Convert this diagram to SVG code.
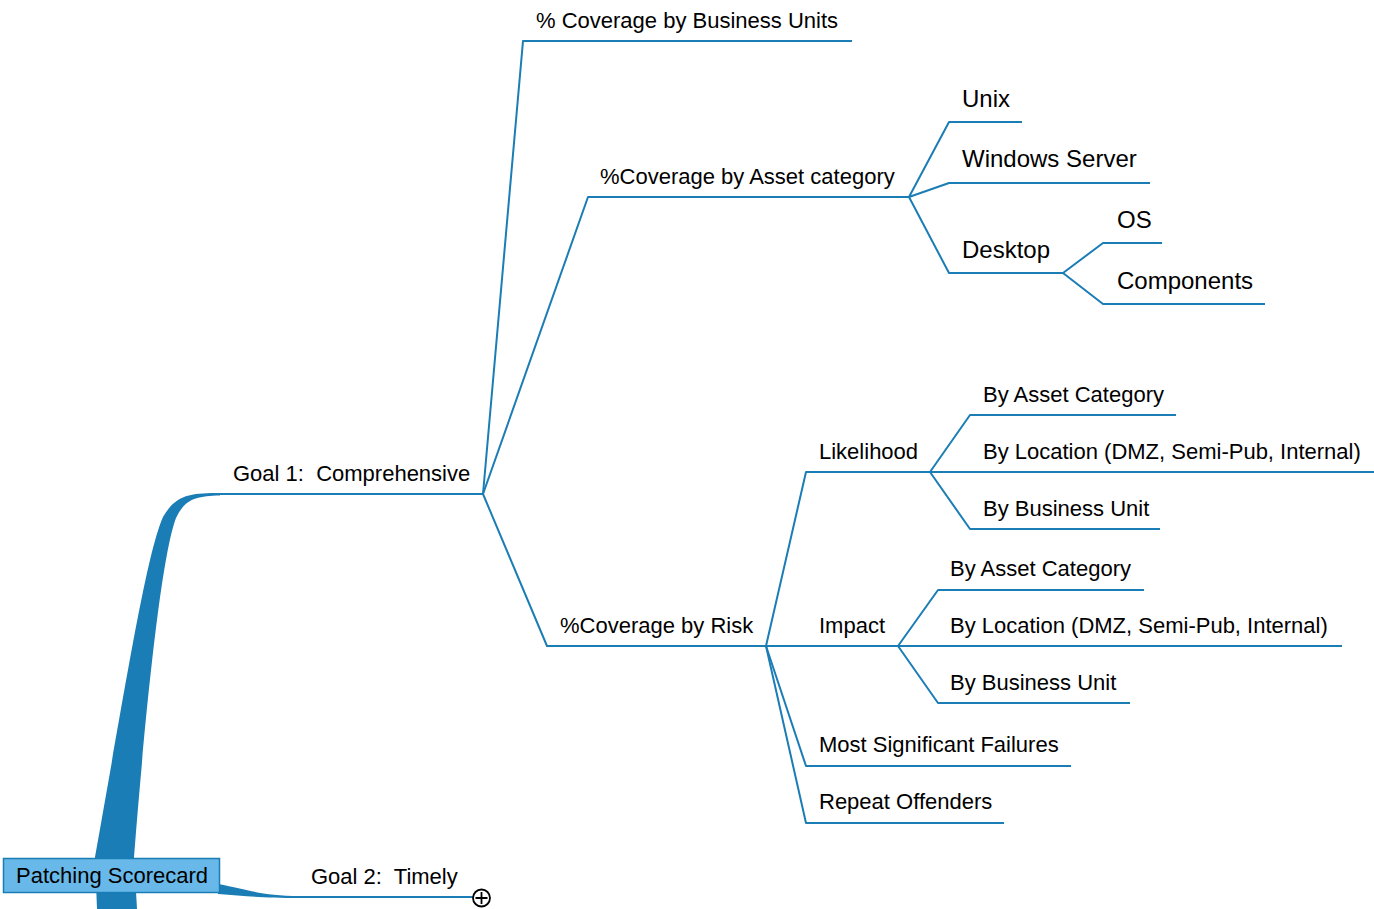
<svg xmlns="http://www.w3.org/2000/svg" width="1374" height="909" viewBox="0 0 1374 909">
  <style>
    .ln { fill: none; stroke: #1b7db5; stroke-width: 2; stroke-linejoin: round; }
    .thick { fill: #1b7db5; stroke: none; }
    .t { font-family: "Liberation Sans", Arial, sans-serif; font-size: 22px; fill: #000; white-space: pre; }
    .tl { font-family: "Liberation Sans", Arial, sans-serif; font-size: 24px; fill: #000; }
  </style>
  <rect width="1374" height="909" fill="#fff"/>

  <!-- connectors -->
  <g id="connectors">
    <!-- root trunks -->
    <path class="thick" d="M 97 909 L 95 857 C 125 690 146 555 163 517 C 176 494 192 493 220 493 L 220 495.5 C 196 496 185 499 176 518 C 163 552 148 680 134 857 L 137 909 Z"/>
    <path class="thick" d="M 218 884 C 250 890 262 896 300 896 L 300 898 C 262 898 245 896 218 894 Z"/>
    <!-- goal 1 -->
    <path class="ln" d="M 220 494 L 483 494"/>
    <path class="ln" d="M 483 494 L 523 41 L 852 41"/>
    <path class="ln" d="M 483 494 L 588 197 L 909 197"/>
    <path class="ln" d="M 483 494 L 547 646 L 766 646"/>
    <!-- asset category -->
    <path class="ln" d="M 909 197 L 949 122 L 1022 122"/>
    <path class="ln" d="M 909 197 L 949 183 L 1150 183"/>
    <path class="ln" d="M 909 197 L 949 273 L 1063 273"/>
    <path class="ln" d="M 1063 273 L 1103 243 L 1162 243"/>
    <path class="ln" d="M 1063 273 L 1103 304 L 1265 304"/>
    <!-- risk -->
    <path class="ln" d="M 766 646 L 806 472 L 930 472"/>
    <path class="ln" d="M 766 646 L 898 646"/>
    <path class="ln" d="M 766 646 L 806 766 L 1071 766"/>
    <path class="ln" d="M 766 646 L 806 823 L 1004 823"/>
    <!-- likelihood -->
    <path class="ln" d="M 930 472 L 970 415 L 1176 415"/>
    <path class="ln" d="M 930 472 L 1374 472"/>
    <path class="ln" d="M 930 472 L 970 529 L 1160 529"/>
    <!-- impact -->
    <path class="ln" d="M 898 646 L 938 590 L 1144 590"/>
    <path class="ln" d="M 898 646 L 1342 646"/>
    <path class="ln" d="M 898 646 L 938 703 L 1130 703"/>
    <!-- goal 2 -->
    <path class="ln" d="M 300 897 L 473 897"/>
  </g>

  <g id="root">
    <rect x="3.5" y="858.5" width="216" height="34" fill="#68b9e9" stroke="#1b7db5" stroke-width="1.5"/>
    <text class="t" x="16" y="883">Patching Scorecard</text>
  </g>

  <g id="goal1"><text class="t" x="233" y="481" xml:space="preserve">Goal 1:  Comprehensive</text></g>
  <g id="goal2">
    <text class="t" x="311" y="884" xml:space="preserve">Goal 2:  Timely</text>
    <g id="goal2-expand" fill="none" stroke="#000" stroke-width="1.8">
      <circle cx="481.5" cy="898" r="8.5" fill="#fff"/>
      <path d="M 475.5 898 H 487.5 M 481.5 892 V 904"/>
    </g>
  </g>

  <g id="cov-bu"><text class="t" x="536" y="28">% Coverage by Business Units</text></g>
  <g id="cov-asset"><text class="t" x="600" y="184">%Coverage by Asset category</text></g>
  <g id="cov-risk"><text class="t" x="560" y="633">%Coverage by Risk</text></g>

  <g id="unix"><text class="tl" x="962" y="107">Unix</text></g>
  <g id="winserver"><text class="tl" x="962" y="167">Windows Server</text></g>
  <g id="desktop"><text class="tl" x="962" y="258">Desktop</text></g>
  <g id="os"><text class="tl" x="1117" y="228">OS</text></g>
  <g id="components"><text class="tl" x="1117" y="289">Components</text></g>

  <g id="likelihood"><text class="t" x="819" y="459">Likelihood</text></g>
  <g id="impact"><text class="t" x="819" y="633">Impact</text></g>
  <g id="failures"><text class="t" x="819" y="752">Most Significant Failures</text></g>
  <g id="offenders"><text class="t" x="819" y="809">Repeat Offenders</text></g>

  <g id="l-asset"><text class="t" x="983" y="402">By Asset Category</text></g>
  <g id="l-location"><text class="t" x="983" y="459">By Location (DMZ, Semi-Pub, Internal)</text></g>
  <g id="l-bu"><text class="t" x="983" y="516">By Business Unit</text></g>

  <g id="i-asset"><text class="t" x="950" y="576">By Asset Category</text></g>
  <g id="i-location"><text class="t" x="950" y="633">By Location (DMZ, Semi-Pub, Internal)</text></g>
  <g id="i-bu"><text class="t" x="950" y="690">By Business Unit</text></g>
</svg>
